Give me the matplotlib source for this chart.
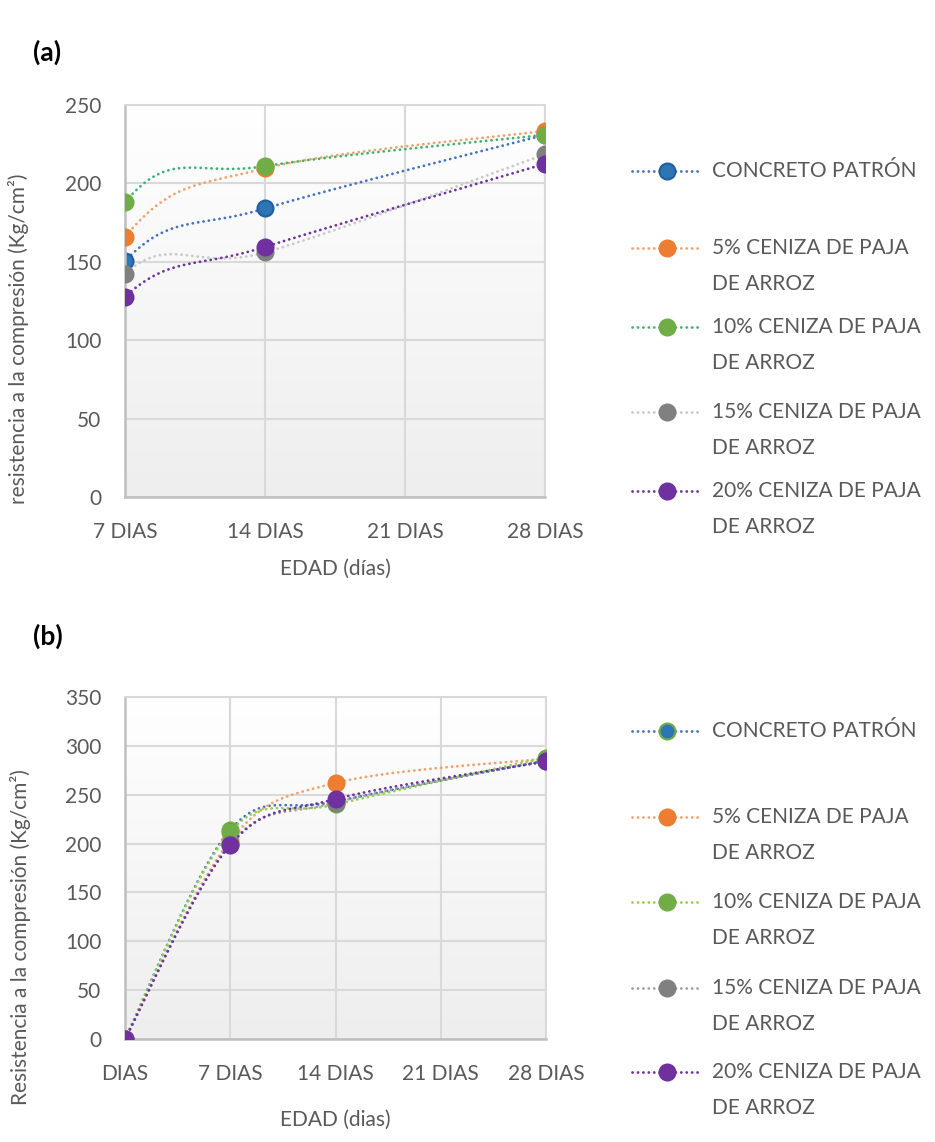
import numpy as np
import matplotlib.pyplot as plt
from matplotlib.colors import LinearSegmentedColormap

plt.rcParams['font.family'] = ['Lato', 'DejaVu Sans']

# age categories on the x axis (no test was made at 21 days)
dias = ["DIAS", "7 DIAS", "14 DIAS", "21 DIAS", "28 DIAS"]
nombres = ["CONCRETO PATRÓN",
           "5% CENIZA DE PAJA\nDE ARROZ",
           "10% CENIZA DE PAJA\nDE ARROZ",
           "15% CENIZA DE PAJA\nDE ARROZ",
           "20% CENIZA DE PAJA\nDE ARROZ"]

# (a) compressive strength, kg/cm2 -- the 0-day reading lies left of the shown range
a_patron = [0, 150.5, 184.0, None, 231.0]
a_5 = [0, 166.0, 209.6, None, 233.5]
a_10 = [0, 188.0, 211.0, None, 231.0]
a_15 = [0, 142.5, 156.0, None, 218.5]
a_20 = [0, 127.8, 159.5, None, 212.5]

# (b) compressive strength, kg/cm2
b_patron = [0, 214.0, 243.0, None, 285.0]
b_5 = [0, 203.0, 262.0, None, 287.0]
b_10 = [0, 212.0, 240.0, None, 288.0]
b_15 = [0, 200.0, 242.0, None, 285.0]
b_20 = [0, 198.5, 245.5, None, 284.0]

# marker face, marker edge, line colour
estilo_a = [("#2E75B6", "#1F5FA0", "#4472C4"),
            ("#ED7D31", "#ED7D31", "#F4A06A"),
            ("#70AD47", "#70AD47", "#3CB371"),
            ("#808080", "#808080", "#C8C8C8"),
            ("#7030A0", "#7030A0", "#7030A0")]
estilo_b = [("#2E75B6", "#70AD47", "#4472C4"),
            ("#ED7D31", "#ED7D31", "#F4A06A"),
            ("#70AD47", "#70AD47", "#92D050"),
            ("#808080", "#808080", "#A0A0A0"),
            ("#7030A0", "#7030A0", "#7030A0")]

TXT = "#595959"
W, H = 935, 1142
PUNTOS = (0, (0.05, 1.9))   # round dots


def suavizar(xs, ys, n=40):
    # Excel-like smoothed line: cubic Bezier through the points, Catmull-Rom handles
    P = np.array([(x, y) for x, y in zip(xs, ys) if y is not None], float)
    t = np.linspace(0, 1, n)[1:, None]
    out = [P[:1]]
    for i in range(len(P) - 1):
        p0 = P[max(i - 1, 0)]
        p1 = P[i]
        p2 = P[i + 1]
        p3 = P[min(i + 2, len(P) - 1)]
        c1 = p1 + (p2 - p0) / 6
        c2 = p2 - (p3 - p1) / 6
        out.append((1 - t)**3 * p1 + 3 * (1 - t)**2 * t * c1
                   + 3 * (1 - t) * t**2 * c2 + t**3 * p2)
    out = np.vstack(out)
    return out[:, 0], out[:, 1]


def caja(px_left, px_top, px_right, px_bottom):
    return [px_left / W, 1 - px_bottom / H, (px_right - px_left) / W,
            (px_bottom - px_top) / H]


fig = plt.figure(figsize=(W / 100, H / 100), dpi=100)
fondo = LinearSegmentedColormap.from_list("fondo", ["#ffffff", "#eeeeee"])


def panel(rect, series, estilos, xmin, ymax):
    ax = fig.add_axes(rect)
    x = np.arange(len(dias))
    ax.imshow(np.linspace(0, 1, 256)[:, None], extent=[xmin, 4, 0, ymax],
              cmap=fondo, aspect="auto", zorder=-1)
    for k, (vals, (cara, borde, linea)) in enumerate(zip(series, estilos)):
        sx, sy = suavizar(x, vals)
        ax.plot(sx, sy, color=linea, lw=2.0, ls=PUNTOS,
                dash_capstyle="round", zorder=2 + k)
        xv = [xi for xi, v in zip(x, vals) if v is not None]
        yv = [v for v in vals if v is not None]
        ax.plot(xv, yv, ls="none", marker="o", ms=11.5, mfc=cara, mec=borde,
                mew=1.5, zorder=2 + k)
    ax.set_xlim(xmin, 4)
    ax.set_ylim(0, ymax)
    ax.set_xticks(x[xmin:])
    ax.set_xticklabels(dias[xmin:])
    ax.set_yticks(np.arange(0, ymax + 1, 50))
    ax.grid(color="#d9d9d9", lw=1.5)
    ax.set_axisbelow(True)
    ax.tick_params(length=0, labelsize=15, colors=TXT)
    ax.tick_params(axis="x", pad=18)
    ax.tick_params(axis="y", pad=17)
    for s in ["top", "right"]:
        ax.spines[s].set_color("#d9d9d9")
        ax.spines[s].set_linewidth(1.5)
    for s in ["left", "bottom"]:
        ax.spines[s].set_color("#bfbfbf")
        ax.spines[s].set_linewidth(1.8)
    return ax


panel(caja(125, 105, 545, 497), [a_patron, a_5, a_10, a_15, a_20], estilo_a, 1, 250)
panel(caja(125, 697, 546, 1039), [b_patron, b_5, b_10, b_15, b_20], estilo_b, 0, 350)

# overlay in pixel units for titles, axis names and legends
ov = fig.add_axes([0, 0, 1, 1], zorder=10)
ov.set_xlim(0, W)
ov.set_ylim(H, 0)
ov.axis("off")

ov.text(33, 52, "(a)", fontsize=19, fontweight="bold", ha="left", va="center")
ov.text(33, 636, "(b)", fontsize=19, fontweight="bold", ha="left", va="center")

ov.text(335, 569, "EDAD (días)", fontsize=15, color=TXT, ha="center", va="center")
ov.text(335, 1120, "EDAD (dias)", fontsize=15, color=TXT, ha="center", va="center")

ov.text(19, 339, "resistencia a la compresión (Kg/cm²)", fontsize=15, color=TXT,
        rotation=90, ha="center", va="center")
ov.text(21, 937, "Resistencia a la compresión (Kg/cm²)", fontsize=15, color=TXT,
        rotation=90, ha="center", va="center")

ley_a = [171, 248, 327, 412, 491]
ley_b = [731, 817, 902, 988, 1072]
for ys, estilos in [(ley_a, estilo_a), (ley_b, estilo_b)]:
    for y, nombre, (cara, borde, linea) in zip(ys, nombres, estilos):
        ov.plot([632, 700], [y, y], color=linea, lw=2.0, ls=PUNTOS,
                dash_capstyle="round")
        ov.plot([667], [y], marker="o", ms=11.5, mfc=cara, mec=borde, mew=1.5)
        for j, linea_txt in enumerate(nombre.split("\n")):
            ov.text(712, y + 36 * j, linea_txt, fontsize=15, color=TXT,
                    ha="left", va="center")

fig.savefig("out.png", dpi=100)
